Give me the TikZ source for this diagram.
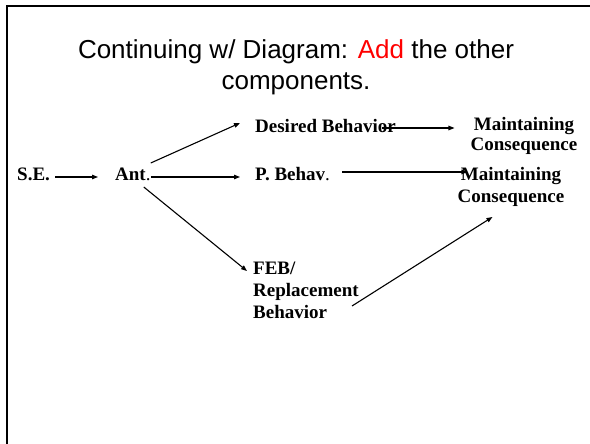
\documentclass[tikz,border=0pt]{standalone}
\usepackage{fontspec}
\setmainfont{Liberation Serif}
\newfontfamily\titlefont{Liberation Sans}
\usetikzlibrary{arrows.meta,calc}
\begin{document}
\begin{tikzpicture}[x=1pt,y=-1pt,
  lbl/.style={inner sep=0pt,font=\fontsize{19}{22}\selectfont\bfseries},
  conn/.style={line width=1.1pt,-{Triangle[length=6pt,width=4.5pt]}}]
\useasboundingbox (0,0) rectangle (590,444);
\draw[line width=2pt] (590,6) -- (6.5,6) -- (6.5,444);
\node[inner sep=0pt,anchor=base,align=center,font=\titlefont\fontsize{26}{32}\selectfont] (title) at (296,90)
  {Continuing w/ Diagram: \textcolor{red}{Add} the other\\components.};
\node[lbl,anchor=base west] (se) at (17,180) {S.E.};
\node[lbl,anchor=base west] (ant) at (115,180) {Ant\textmd{.}};
\node[lbl,anchor=base west] (pb) at (255,180) {P. Behav\textmd{.}};
\node[lbl,anchor=base west] (db) at (255,133) {Desired Behavior};
\node[lbl,anchor=base,align=center,font=\fontsize{19}{20}\selectfont\bfseries] (m1) at (524,150) {Maintaining\\Consequence};
\node[lbl,anchor=base,align=center] (m2) at (511,202) {Maintaining\\Consequence};
\node[lbl,anchor=base west,align=left] (feb) at (253,318) {FEB/\\Replacement\\Behavior};
\draw[conn] ($(se.base east)+(5,-3)$) -- ($(ant.base west)+(-17,-3)$);
\draw[conn] ($(ant.base east)+(0,-3)$) -- ($(pb.base west)+(-15,-3)$);
\draw[conn] ($(ant.base east)+(0,-17)$) -- ($(db.base west)+(-15,-10)$);
\draw[conn] ($(ant.base east)+(-7,7)$) -- ($(feb.base west)+(-6,-47)$);
\draw[conn] ($(db.base east)+(-14,-5)$) -- ($(m1.base west)+(-16,-22)$);
\draw[conn] ($(pb.base east)+(12,-8)$) -- ($(m2.base west)+(10,-30)$);
\draw[conn] ($(feb.base west)+(99,-12)$) -- ($(m2.base west)+(35,15)$);
\end{tikzpicture}
\end{document}
